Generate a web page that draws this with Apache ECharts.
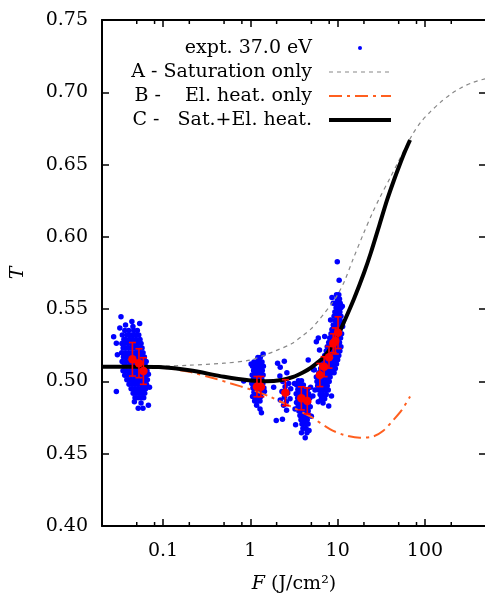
<!DOCTYPE html>
<html><head><meta charset="utf-8">
<script src="https://cdn.jsdelivr.net/npm/echarts@6/dist/echarts.min.js"></script>
<style>html,body{margin:0;padding:0;background:#fff}#c{width:485px;height:595px}</style>
</head><body><div id="c"></div>
<script>
// ---- axis ticks ----
const xMajorTicks = [0.1, 1, 10, 100];
const xTickLabels = ['0.1', '1', '10', '100'];
const xMinorTicks = [0.05, 0.08, 0.2, 0.5, 0.8, 2, 5, 8, 20, 50, 80, 200];
const yTickLabels = ['0.40','0.45','0.50','0.55','0.60','0.65','0.70','0.75'];

// ---- model curves ----
const satF = [0.02,0.05,0.1,0.2,0.5,1,1.5,2,3,4,5,6,7,8.6,10,12,15,20,25,30,40,50,60,73,90,115,150,195,260,360,500];
const satT = [0.5102,0.5103,0.5106,0.5112,0.5126,0.5148,0.5185,0.5215,0.5262,0.5318,0.5365,0.5420,0.5470,0.5540,0.5600,0.5695,0.5845,0.6030,0.6165,0.6265,0.6410,0.6525,0.6620,0.6715,0.6795,0.6865,0.6930,0.6985,0.7032,0.7070,0.7095];

const heatF = [0.02,0.05,0.1,0.2,0.4,0.6,1,1.7,3,4.9,8.15,11.6,18,25.6,33.3,43.4,54.1,67.5];
const heatT = [0.5102,0.5101,0.5094,0.5066,0.5018,0.4986,0.4945,0.4893,0.4822,0.4756,0.4670,0.4631,0.4610,0.4620,0.4659,0.4733,0.4802,0.4895];

const bothF = [0.02,0.05,0.09,0.2,0.5,1,1.5,2.3,3.1,4,4.9,6,7,8.5,10,12,15.4,20,24,30,37,44,50.7,58,67.5];
const bothT = [0.5102,0.5102,0.5099,0.5077,0.5032,0.5006,0.5001,0.5010,0.5031,0.5062,0.5093,0.5135,0.5170,0.5240,0.5315,0.5420,0.5572,0.5750,0.5890,0.6080,0.6259,0.6390,0.6490,0.6580,0.6670];

// ---- averaged experimental points with error bars ----
const avgF = [0.0446,0.053,0.0596,1.19,1.32,2.52,3.84,4.49,6.25,7.0,7.96,8.9,9.4,10.1];
const avgT = [0.5153,0.5126,0.5072,0.4964,0.4964,0.4922,0.4883,0.4865,0.5044,0.5102,0.5167,0.5264,0.5280,0.5337];
const avgErr = [0.0116,0.0100,0.0092,0.0070,0.0070,0.0090,0.0080,0.0090,0.0080,0.0069,0.0075,0.0065,0.0090,0.0110];

// ---- raw experimental points (rows: [T, [F...]]) ----
const expt1Rows = [
 [0.5352,[0.0365,0.0405,0.0462,0.0508]],
 [0.5321,[0.0342,0.0388,0.0431,0.0478,0.0527]],
 [0.5290,[0.0356,0.0372,0.0412,0.0449,0.0493,0.0545]],
 [0.5262,[0.0338,0.0361,0.0398,0.0436,0.0471,0.0512,0.0560]],
 [0.5231,[0.0349,0.0381,0.0420,0.0457,0.0498,0.0534,0.0575]],
 [0.5198,[0.0336,0.0368,0.0403,0.0441,0.0482,0.0521,0.0553,0.0590]],
 [0.5169,[0.0352,0.0387,0.0426,0.0463,0.0505,0.0541,0.0580,0.0612]],
 [0.5137,[0.0340,0.0373,0.0410,0.0447,0.0488,0.0527,0.0566,0.0603,0.0641]],
 [0.5106,[0.0357,0.0393,0.0432,0.0470,0.0509,0.0548,0.0590,0.0628]],
 [0.5074,[0.0348,0.0378,0.0416,0.0455,0.0494,0.0531,0.0572,0.0615,0.0655]],
 [0.5043,[0.0364,0.0401,0.0439,0.0478,0.0517,0.0557,0.0598,0.0638]],
 [0.5012,[0.0385,0.0424,0.0462,0.0501,0.0540,0.0581,0.0622,0.0662]],
 [0.4981,[0.0408,0.0447,0.0486,0.0525,0.0566,0.0607,0.0646]],
 [0.4950,[0.0431,0.0470,0.0510,0.0549,0.0591,0.0633]],
 [0.4918,[0.0455,0.0494,0.0534,0.0575,0.0617]],
 [0.4887,[0.0478,0.0519,0.0560,0.0601]]
];
const expt1Extra = [[0.0330,0.5448],[0.0320,0.5370],[0.0372,0.5390],[0.0440,0.5415],[0.0452,0.5380],[0.0540,0.5400],[0.0272,0.5309],[0.0292,0.5264],[0.0292,0.4930],[0.0520,0.4815],[0.0589,0.4815],[0.0680,0.4835],[0.0470,0.4860],[0.0560,0.4850],[0.0300,0.5185],[0.0680,0.5050],[0.0700,0.4960]];

const expt2Rows = [
 [0.5165,[1.22,1.30]],
 [0.5135,[1.10,1.19,1.27,1.36]],
 [0.5105,[1.06,1.14,1.23,1.32,1.41]],
 [0.5075,[1.09,1.18,1.27,1.37]],
 [0.5045,[1.05,1.13,1.22,1.31,1.40]],
 [0.5015,[1.08,1.17,1.26,1.35]],
 [0.4985,[1.04,1.12,1.21,1.30,1.39]],
 [0.4955,[1.07,1.16,1.25,1.34,1.43]],
 [0.4925,[1.10,1.19,1.28,1.37]],
 [0.4895,[1.06,1.14,1.23,1.32]],
 [0.4865,[1.12,1.21,1.29]]
];
const expt2Extra = [[0.84,0.5003],[1.34,0.4784],[1.29,0.4810],[1.18,0.4835],[1.40,0.5190],[1.02,0.5120],[1.45,0.4930]];

const expt3 = [[2.05,0.5125],[2.20,0.5098],[2.45,0.5140],[2.18,0.5037],[2.62,0.5060],[2.35,0.5000],[2.75,0.4985],[2.50,0.4963],[2.30,0.4930],[2.68,0.4920],[2.45,0.4890],[2.58,0.4860],[2.20,0.4872],[2.40,0.4835],[2.85,0.4880],[1.98,0.4729],[2.33,0.4738],[2.60,0.4800],[1.85,0.4960],[2.90,0.4950]];

const expt4Rows = [
 [0.5005,[3.55,3.85]],
 [0.4975,[3.40,3.70,4.05]],
 [0.4945,[3.50,3.80,4.15,4.50]],
 [0.4915,[3.35,3.62,3.95,4.30,4.65]],
 [0.4885,[3.48,3.78,4.10,4.45,4.80]],
 [0.4855,[3.38,3.65,3.95,4.28,4.62]],
 [0.4825,[3.52,3.82,4.15,4.50,4.85]],
 [0.4795,[3.60,3.92,4.25,4.60]],
 [0.4765,[3.70,4.02,4.38,4.72]],
 [0.4735,[3.80,4.12,4.48]],
 [0.4705,[3.90,4.22,4.58]],
 [0.4675,[4.00,4.35]],
 [0.4645,[3.85,4.45]]
];
const expt4Extra = [[3.20,0.4985],[3.25,0.4810],[4.90,0.4960],[5.20,0.4900],[4.25,0.4610],[4.70,0.4660],[3.30,0.4700],[5.0,0.4760],[5.5,0.4940],[6.0,0.4860],[5.3,0.5080],[5.7,0.5030],[4.6,0.5148]];

const expt5Rows = [
 [0.560,[9.7,10.3]],
 [0.557,[9.9,10.5]],
 [0.554,[9.4,10.1,10.7]],
 [0.551,[9.6,10.3,10.9]],
 [0.548,[9.3,9.9,10.6]],
 [0.545,[9.1,9.7,10.3,10.9]],
 [0.542,[9.4,10.0,10.7]],
 [0.539,[8.9,9.6,10.3,11.0]],
 [0.536,[8.6,9.2,9.9,10.6]],
 [0.533,[8.4,9.0,9.7,10.4,11.1]],
 [0.530,[8.1,8.7,9.4,10.1,10.8]],
 [0.527,[7.9,8.5,9.1,9.8,10.5]],
 [0.524,[7.6,8.2,8.8,9.5,10.2,10.9]],
 [0.521,[7.4,8.0,8.6,9.2,9.9,10.6]],
 [0.518,[7.1,7.7,8.3,8.9,9.6,10.3]],
 [0.515,[6.9,7.4,8.0,8.7,9.3,10.0]],
 [0.512,[6.6,7.2,7.8,8.4,9.0,9.7]],
 [0.509,[6.4,6.9,7.5,8.1,8.7,9.4]],
 [0.506,[6.1,6.7,7.3,7.9,8.5,9.1]],
 [0.503,[5.9,6.4,7.0,7.6,8.2]],
 [0.500,[5.8,6.2,6.8,7.4,8.0]],
 [0.497,[5.9,6.4,7.0,7.6]],
 [0.494,[6.1,6.6,7.2,7.8]],
 [0.491,[6.3,6.8,7.4]],
 [0.488,[6.5,7.1]],
 [0.485,[6.8]]
];
const expt5Extra = [[9.9,0.5828],[10.4,0.5700],[8.6,0.5580],[11.3,0.5520],[5.7,0.5275],[6.2,0.5217],[6.0,0.5300],[5.4,0.5080],[7.9,0.4830],[8.5,0.4900],[11.4,0.5380],[8.9,0.5540],[8.3,0.5425],[7.1,0.5310]];

// ---- names ----
const nameE = 'expt. 37.0 eV';
const nameA = 'A - Saturation only';
const nameB = 'B -    El. heat. only';
const nameC = 'C -   Sat.+El. heat.';

// ---- build data ----
function rowsToPts(rows){ const out=[]; rows.forEach(r=>r[1].forEach(f=>out.push([f,r[0]]))); return out; }
const exptData = [].concat(rowsToPts(expt1Rows), expt1Extra, rowsToPts(expt2Rows), expt2Extra, expt3, rowsToPts(expt4Rows), expt4Extra, rowsToPts(expt5Rows), expt5Extra);
const zip = (a,b)=>a.map((v,i)=>[v,b[i]]);
const avgData = avgF.map((f,i)=>[f,avgT[i],avgErr[i]]);
const yMin = 0.40, yMax = 0.75, xMin = 0.02, xMax = 500;

const FONT = 'DejaVu Serif';
const FS = 19;

const chart = echarts.init(document.getElementById('c'), null, {renderer:'canvas'});

const baseX = {
  type:'log', logBase:10, min:xMin, max:xMax,
  splitLine:{show:false}, minorTick:{show:false}, minorSplitLine:{show:false},
  axisLine:{show:true, lineStyle:{color:'#000', width:2}},
  axisTick:{show:true, inside:true, length:7, lineStyle:{color:'#000', width:1.5}}
};
const baseY = {
  type:'value', min:yMin, max:yMax, interval:0.05,
  splitLine:{show:false},
  axisLine:{show:true, lineStyle:{color:'#000', width:2}},
  axisTick:{show:true, inside:true, length:7, lineStyle:{color:'#000', width:1.5}}
};
const noDot = {opacity:0};

chart.setOption({
  animation:false,
  backgroundColor:'#fff',
  grid:{left:102, right:-1, top:20, bottom:69, outerBoundsMode:'none', containLabel:false},
  legend:{
    orient:'vertical', right:92, top:36, padding:0, itemGap:0, align:'right',
    itemWidth:62, itemHeight:4, selectedMode:false,
    textStyle:{fontFamily:FONT, fontSize:FS, color:'#000', lineHeight:24, padding:[0,12,0,0]},
    data:[
      {name:nameE, icon:'circle'},
      {name:nameA, itemStyle:noDot, lineStyle:{width:1.2, type:[4,4], color:'#888'}},
      {name:nameB, itemStyle:noDot, lineStyle:{width:2, type:[13,5,3,5], color:'#ff5f1f'}},
      {name:nameC, itemStyle:noDot, lineStyle:{width:4, color:'#000'}}
    ]
  },
  xAxis:[
    Object.assign({}, baseX, {
      position:'bottom',
      axisLabel:{show:true, margin:16, fontFamily:FONT, fontSize:FS, color:'#000',
        showMinLabel:false, showMaxLabel:false,
        formatter:v=>{ const i = xMajorTicks.findIndex(t=>Math.abs(Math.log10(t)-Math.log10(v))<1e-6); return i>=0 ? xTickLabels[i] : ''; }},
      name:'{i|F} (J/cm²)', nameLocation:'middle', nameGap:49,
      nameTextStyle:{fontFamily:FONT, fontSize:FS, color:'#000',
        rich:{i:{fontFamily:FONT, fontSize:FS, color:'#000', fontStyle:'italic'}}}
    }),
    Object.assign({}, baseX, {position:'top', axisLabel:{show:false}})
  ],
  yAxis:[
    Object.assign({}, baseY, {
      position:'left',
      axisLabel:{show:true, margin:14, fontFamily:FONT, fontSize:FS, color:'#000',
        formatter:v=>{ const i = Math.round((v - yMin)/0.05); return yTickLabels[i] || ''; }},
      name:'T', nameLocation:'middle', nameGap:74,
      nameTextStyle:{fontFamily:FONT, fontSize:FS, color:'#000', fontStyle:'italic'}
    }),
    Object.assign({}, baseY, {position:'right', axisLabel:{show:false}})
  ],
  series:[
    {name:nameE, type:'scatter', data:exptData, symbol:'circle', symbolSize:5.5, large:false,
      itemStyle:{color:'#0000ff', opacity:1}, z:2, silent:true},
    {name:nameA, type:'line', data:zip(satF,satT), showSymbol:false, symbol:'none', smooth:0.3,
      lineStyle:{color:'#888', width:1.2, type:[4,4]}, itemStyle:{color:'#888'}, z:3, silent:true},
    {name:nameB, type:'line', data:zip(heatF,heatT), showSymbol:false, symbol:'none', smooth:0.3,
      lineStyle:{color:'#ff5f1f', width:2, type:[13,5,3,5]}, itemStyle:{color:'#ff5f1f'}, z:3, silent:true},
    {name:nameC, type:'line', data:zip(bothF,bothT), showSymbol:false, symbol:'none', smooth:0.3,
      lineStyle:{color:'#000', width:4}, itemStyle:{color:'#000'}, z:4, silent:true},
    {name:'avg-err', type:'custom', data:avgData, z:5, silent:true,
      renderItem:(params, api)=>{
        const x=api.value(0), y=api.value(1), e=api.value(2);
        const lo=api.coord([x,y-e]), hi=api.coord([x,y+e]);
        const w=3.5, st={stroke:'#ff0000', lineWidth:1.6};
        return {type:'group', children:[
          {type:'line', shape:{x1:lo[0],y1:lo[1],x2:hi[0],y2:hi[1]}, style:st},
          {type:'line', shape:{x1:lo[0]-w,y1:lo[1],x2:lo[0]+w,y2:lo[1]}, style:st},
          {type:'line', shape:{x1:hi[0]-w,y1:hi[1],x2:hi[0]+w,y2:hi[1]}, style:st}
        ]};
      }},
    {name:'avg', type:'scatter', data:avgData.map(d=>[d[0],d[1]]), symbol:'circle', symbolSize:8.5, large:false,
      itemStyle:{color:'#ff0000', opacity:1}, z:6, silent:true},
    {name:'minor-ticks', type:'custom', data:xMinorTicks.map(v=>[v,yMin]), z:7, silent:true, clip:false,
      renderItem:(params, api)=>{
        const v=api.value(0);
        const b=api.coord([v,yMin]), t=api.coord([v,yMax]);
        const st={stroke:'#000', lineWidth:1.5};
        return {type:'group', children:[
          {type:'line', shape:{x1:b[0],y1:b[1],x2:b[0],y2:b[1]-4}, style:st},
          {type:'line', shape:{x1:t[0],y1:t[1],x2:t[0],y2:t[1]+4}, style:st}
        ]};
      }}
  ]
});
</script></body></html>
